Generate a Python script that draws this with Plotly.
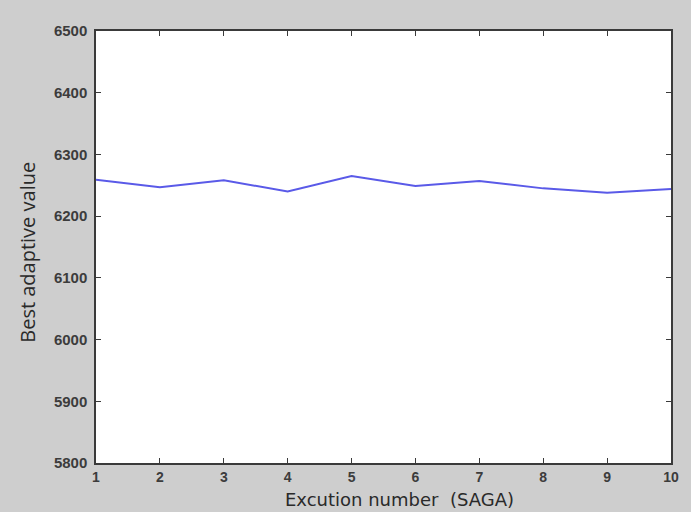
import plotly.graph_objects as go

# Run index and the best fitness value found in each run
runs = [1, 2, 3, 4, 5, 6, 7, 8, 9, 10]
best_values = [6259, 6247, 6258, 6240, 6265, 6249, 6257, 6245, 6238, 6244]

y_ticks = [5800, 5900, 6000, 6100, 6200, 6300, 6400, 6500]
x_ticks = runs

fig = go.Figure()
fig.add_trace(go.Scatter(
    x=runs, y=best_values, mode="lines",
    line=dict(color="#5a5ae8", width=2),
    showlegend=False,
))

axis_common = dict(
    showgrid=False, zeroline=False,
    showline=True, linecolor="#3a3a3a", linewidth=1.5,
    mirror="ticks", ticks="inside", ticklen=5, tickwidth=1.2, tickcolor="#3a3a3a",
)
tick_font = dict(family="Liberation Sans, Arial", color="#3c3c3c", weight="bold")

fig.update_xaxes(range=[1, 10], tickvals=x_ticks, ticklabelstandoff=0,
                 tickfont=dict(size=14, **tick_font), **axis_common)
fig.update_yaxes(range=[5800, 6500], tickvals=y_ticks, ticklabelstandoff=4,
                 tickfont=dict(size=15, **tick_font), **axis_common)

fig.add_annotation(
    text="Excution number  (SAGA)", xref="paper", yref="paper",
    x=0.527, y=-0.1115, xanchor="center", yanchor="bottom", showarrow=False,
    borderpad=0,
    font=dict(family="DejaVu Sans", size=18, color="#2a2a2a"),
)
fig.add_annotation(
    text="Best adaptive value", xref="paper", yref="paper",
    x=-0.119, y=0.488, xanchor="center", yanchor="middle", showarrow=False,
    textangle=-90,
    font=dict(family="Open Sans", size=20, color="#2a2a2a"),
)

fig.update_layout(
    width=691, height=512,
    margin=dict(l=96, r=18, t=31, b=49),
    paper_bgcolor="#cecece", plot_bgcolor="#ffffff",
)

fig.write_html("out.html")
